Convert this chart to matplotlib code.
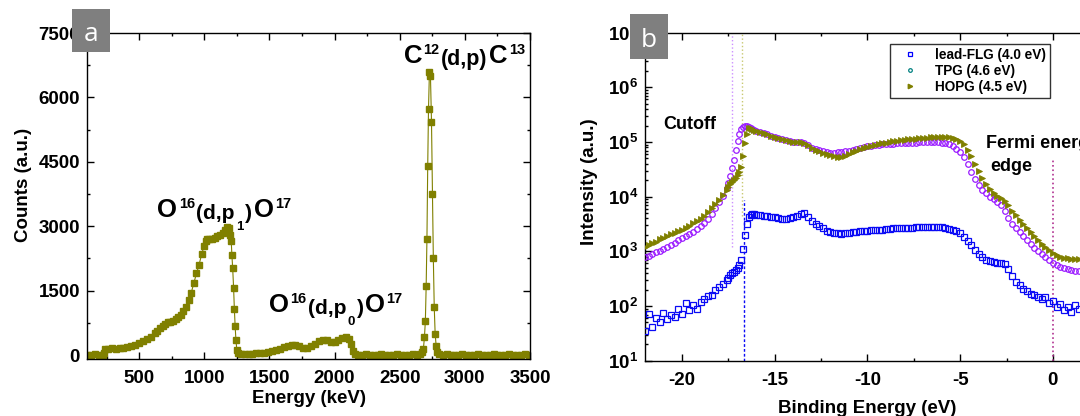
import numpy as np
import matplotlib
matplotlib.use('Agg')
import matplotlib.pyplot as plt
from matplotlib.lines import Line2D
from matplotlib.patches import Rectangle
from matplotlib.ticker import MultipleLocator, FixedLocator, LogLocator, LogFormatterMathtext, NullFormatter

plt.rcParams['font.family'] = ['Liberation Sans', 'DejaVu Sans']
plt.rcParams['font.weight'] = 'bold'
plt.rcParams['axes.labelweight'] = 'bold'
plt.rcParams['axes.unicode_minus'] = False
plt.rcParams['mathtext.fontset'] = 'custom'
plt.rcParams['mathtext.rm'] = 'Liberation Sans:bold'
plt.rcParams['mathtext.bf'] = 'Liberation Sans:bold'
plt.rcParams['mathtext.default'] = 'regular'

W, H = 1080, 416

# ---- panel a : deuteron NRA spectrum
energy_kev = [100, 130, 160, 190, 220, 228, 236, 260, 290, 320, 350, 380, 410, 440, 470,
              500, 530, 560, 590, 620, 640, 660, 680, 700, 720, 740, 760, 780, 800, 820,
              840, 860, 880, 900, 920, 940, 960, 980, 1000, 1010, 1020, 1040, 1060, 1080,
              1100, 1120, 1140, 1160, 1175, 1190, 1200, 1207, 1212, 1218, 1225, 1231, 1237,
              1243, 1250, 1258, 1280, 1310, 1340, 1370, 1400, 1430, 1460, 1490, 1520, 1550,
              1580, 1610, 1640, 1670, 1700, 1730, 1760, 1790, 1820, 1850, 1880, 1910, 1940,
              1970, 2000, 2030, 2060, 2090, 2110, 2125, 2140, 2155, 2180, 2210, 2240, 2270,
              2300, 2330, 2360, 2390, 2420, 2450, 2480, 2510, 2540, 2570, 2600, 2630, 2655,
              2670, 2682, 2690, 2697, 2703, 2709, 2715, 2721, 2728, 2736, 2744, 2751, 2758,
              2765, 2772, 2780, 2788, 2800, 2830, 2860, 2890, 2920, 2950, 2980, 3010, 3040,
              3070, 3100, 3130, 3160, 3190, 3220, 3250, 3280, 3310, 3340, 3370, 3400, 3430,
              3460, 3490, 3500]
counts = [10, 5, 15, 5, 10, 40, 150, 150, 155, 150, 160, 165, 180, 200, 230,
          270, 320, 370, 430, 510, 570, 620, 680, 730, 760, 770, 790, 830, 880, 940,
          1020, 1120, 1280, 1450, 1680, 1900, 2100, 2350, 2550, 2650, 2700, 2700, 2710, 2720,
          2780, 2800, 2850, 2900, 2980, 2950, 2800, 2650, 2330, 2030, 1570, 1070, 670,
          350, 120, 50, 30, 30, 35, 35, 40, 45, 55, 70, 90, 120,
          150, 180, 210, 240, 240, 200, 170, 160, 200, 260, 320, 350, 340,
          300, 300, 340, 400, 420, 380, 250, 100, 30, 10, 5, 15, 5,
          10, 5, 15, 5, 10, 5, 15, 5, 10, 5, 15, 10, 30,
          60, 150, 420, 800, 1600, 2700, 4400, 5730, 6580, 6500, 5430, 3760, 2270,
          1120, 500, 200, 60, 15, 5, 15, 5, 10, 5, 15, 5, 10,
          5, 15, 5, 10, 5, 15, 5, 10, 5, 15, 5, 10, 5,
          15, 5, 10]

# ---- panel b : UPS spectra (log10 of intensity)
binding_ev = [-22.0, -21.8, -21.6, -21.4, -21.2, -21.0, -20.8, -20.6, -20.4, -20.2,
              -20.0, -19.8, -19.6, -19.4, -19.2, -19.0, -18.8, -18.6, -18.4, -18.2,
              -18.0, -17.8, -17.6,
              -17.5, -17.4, -17.3, -17.2, -17.1, -17.0, -16.9, -16.8, -16.7, -16.6,
              -16.5, -16.4, -16.3, -16.2, -16.1, -16.0,
              -15.8, -15.6, -15.4, -15.2, -15.0, -14.8, -14.6, -14.4, -14.2, -14.0,
              -13.8, -13.6, -13.4, -13.2, -13.0, -12.8, -12.6, -12.4, -12.2, -12.0,
              -11.8, -11.6, -11.4, -11.2, -11.0, -10.8, -10.6, -10.4, -10.2, -10.0,
              -9.8, -9.6, -9.4, -9.2, -9.0, -8.8, -8.6, -8.4, -8.2, -8.0,
              -7.8, -7.6, -7.4, -7.2, -7.0, -6.8, -6.6, -6.4, -6.2, -6.0,
              -5.8, -5.6, -5.4, -5.2, -5.0, -4.8, -4.6, -4.4, -4.2, -4.0,
              -3.8, -3.6, -3.4, -3.2, -3.0, -2.8, -2.6, -2.4, -2.2, -2.0,
              -1.8, -1.6, -1.4, -1.2, -1.0, -0.8, -0.6, -0.4, -0.2, 0.0,
              0.2, 0.4, 0.6, 0.8, 1.0, 1.2, 1.4]
lg_hopg = [3.08, 3.11, 3.15, 3.18, 3.22, 3.25, 3.28, 3.31, 3.34, 3.37,
           3.40, 3.43, 3.47, 3.51, 3.55, 3.59, 3.65, 3.72, 3.79, 3.87,
           3.94, 4.03, 4.13,
           4.18, 4.23, 4.27, 4.31, 4.35, 4.40, 4.46, 4.55, 4.75, 4.98,
           5.15, 5.25, 5.26, 5.24, 5.22, 5.20,
           5.18, 5.16, 5.14, 5.11, 5.09, 5.07, 5.05, 5.03, 5.01, 5.00,
           5.00, 5.00, 4.98, 4.94, 4.90, 4.86, 4.83, 4.80, 4.78, 4.76,
           4.74, 4.73, 4.73, 4.75, 4.78, 4.81, 4.84, 4.87, 4.89, 4.91,
           4.93, 4.95, 4.96, 4.98, 4.99, 5.00, 5.01, 5.02, 5.03, 5.04,
           5.05, 5.06, 5.06, 5.07, 5.08, 5.08, 5.09, 5.09, 5.10, 5.10,
           5.10, 5.09, 5.08, 5.05, 5.02, 4.96, 4.86, 4.74, 4.60, 4.47,
           4.34, 4.23, 4.14, 4.07, 4.02, 3.98, 3.92, 3.84, 3.74, 3.66,
           3.58, 3.50, 3.42, 3.35, 3.28, 3.21, 3.14, 3.08, 3.02, 2.97,
           2.93, 2.90, 2.88, 2.87, 2.86, 2.86, 2.86]
lg_tpg = [2.90, 2.92, 2.95, 2.98, 3.01, 3.05, 3.08, 3.12, 3.16, 3.20,
          3.24, 3.28, 3.32, 3.36, 3.41, 3.46, 3.52, 3.60, 3.69, 3.79,
          3.90, 4.02, 4.16,
          4.25, 4.37, 4.52, 4.68, 4.86, 5.02, 5.15, 5.23, 5.28, 5.30,
          5.30, 5.28, 5.26, 5.24, 5.22, 5.20,
          5.18, 5.16, 5.14, 5.11, 5.09, 5.07, 5.05, 5.03, 5.01, 5.00,
          5.00, 5.00, 4.98, 4.94, 4.90, 4.87, 4.85, 4.83, 4.81, 4.80,
          4.80, 4.81, 4.82, 4.83, 4.84, 4.86, 4.88, 4.89, 4.91, 4.92,
          4.93, 4.94, 4.95, 4.96, 4.96, 4.97, 4.97, 4.98, 4.98, 4.98,
          4.99, 4.99, 4.99, 5.00, 5.00, 5.00, 5.00, 5.00, 5.00, 4.99,
          4.98, 4.96, 4.93, 4.88, 4.82, 4.72, 4.60, 4.46, 4.33, 4.22,
          4.13, 4.06, 4.00, 3.96, 3.91, 3.84, 3.74, 3.61, 3.50, 3.42,
          3.35, 3.28, 3.20, 3.13, 3.07, 3.01, 2.95, 2.90, 2.84, 2.79,
          2.75, 2.72, 2.69, 2.67, 2.66, 2.65, 2.65]
lg_flg = [1.55, 1.85, 1.62, 1.78, 1.70, 1.88, 1.76, 1.84, 1.80, 1.95,
          1.86, 2.05, 1.92, 2.02, 1.95, 2.08, 2.12, 2.18, 2.20, 2.30,
          2.35, 2.40, 2.47,
          2.52, 2.56, 2.60, 2.63, 2.66, 2.70, 2.75, 2.85, 3.05, 3.30,
          3.50, 3.62, 3.67, 3.68, 3.68, 3.67,
          3.66, 3.65, 3.64, 3.63, 3.62, 3.61, 3.60, 3.60, 3.61, 3.62,
          3.65, 3.69, 3.70, 3.62, 3.55, 3.50, 3.46, 3.42, 3.38, 3.35,
          3.34, 3.33, 3.32, 3.33, 3.34, 3.35, 3.36, 3.37, 3.38, 3.38,
          3.39, 3.39, 3.40, 3.40, 3.41, 3.41, 3.42, 3.42, 3.42, 3.43,
          3.43, 3.43, 3.44, 3.44, 3.44, 3.45, 3.45, 3.45, 3.45, 3.44,
          3.43, 3.41, 3.39, 3.37, 3.33, 3.27, 3.19, 3.11, 3.03, 2.96,
          2.90, 2.85, 2.82, 2.80, 2.79, 2.78, 2.76, 2.68, 2.55, 2.44,
          2.38, 2.32, 2.28, 2.22, 2.20, 2.17, 2.12, 2.16, 2.05, 2.10,
          1.98, 2.03, 1.92, 1.98, 1.90, 2.02, 1.95]

series_labels = ['lead-FLG (4.0 eV)', 'TPG (4.6 eV)', 'HOPG (4.5 eV)']

# guide lines: x position, y from, y to
cut_tpg = (-17.3, 1.2e3, 1e7)
cut_hopg = (-16.78, 4.4e3, 1e7)
cut_flg = (-16.64, 10, 8.7e3)
fermi = (0.0, 10, 4.7e4)

OLIVE = '#808000'
PURPLE = '#9a1aff'
BLUE = '#0a0af5'


def rich_text(fig, x_px, base, pieces, gap=1.5):
	# pieces: (text, size, baseline shift px), laid out one after another
	r = fig.canvas.get_renderer()
	x = x_px
	for s, size, dy in pieces:
		t = fig.text(x / W, 1 - (base - dy) / H, s, fontsize=size,
		             fontweight='bold', ha='left', va='baseline')
		x += t.get_window_extent(r).width + gap


def label_box(fig, x0, y0, x1, y1, letter, base):
	fig.patches.append(Rectangle((x0 / W, 1 - y1 / H), (x1 - x0) / W, (y1 - y0) / H,
	                             transform=fig.transFigure, facecolor='#7f7f7f',
	                             edgecolor='none', zorder=5))
	fig.text((x0 + x1) / 2 / W, 1 - base / H, letter, color='white', fontsize=19,
	         fontweight='normal', family='Open Sans', ha='center', va='baseline', zorder=6)


fig = plt.figure(figsize=(W / 100, H / 100), dpi=100)

# ---------- panel a
ax1 = fig.add_axes([87 / W, 1 - 359.3 / H, 443 / W, 326.3 / H])
ax1.plot(energy_kev, counts, '-s', color=OLIVE, lw=0.8, ms=4.6, mec=OLIVE, mfc=OLIVE)
ax1.set_xlim(100, 3500)
ax1.set_ylim(-100, 7500)
ax1.xaxis.set_major_locator(FixedLocator([500, 1000, 1500, 2000, 2500, 3000, 3500]))
ax1.xaxis.set_minor_locator(MultipleLocator(250))
ax1.yaxis.set_major_locator(MultipleLocator(1500))
ax1.yaxis.set_minor_locator(MultipleLocator(750))
ax1.set_xlabel('Energy (keV)', fontsize=13.5, labelpad=2)
ax1.set_ylabel('Counts (a.u.)', fontsize=13.5)
ax1.yaxis.set_label_coords(-0.125, 0.534)

# ---------- panel b
ax2 = fig.add_axes([644.9 / W, 1 - 360.7 / H, 445.1 / W, 328 / H])
fl = 10 ** np.array(lg_flg)
tp = 10 ** np.array(lg_tpg)
ho = 10 ** np.array(lg_hopg)
ax2.plot(binding_ev, fl, 's', ms=4.0, mfc='none', mec=BLUE, mew=0.9, zorder=3)
ax2.plot(binding_ev, tp, 'o', ms=4.0, mfc='none', mec=PURPLE, mew=0.9, zorder=3)
ax2.plot(binding_ev, ho, '>', ms=5.0, mfc=OLIVE, mec=OLIVE, mew=0.6, zorder=4)
ax2.plot([cut_tpg[0]] * 2, cut_tpg[1:], ':', color='#cc90ff', lw=1.0, zorder=2)
ax2.plot([cut_hopg[0]] * 2, cut_hopg[1:], ':', color='#c8c870', lw=1.0, zorder=2)
ax2.plot([cut_flg[0]] * 2, cut_flg[1:], '--', color=BLUE, lw=1.0, dashes=(2, 1.5), zorder=2)
ax2.plot([fermi[0]] * 2, fermi[1:], ':', color='#b03090', lw=1.2, zorder=2)
ax2.set_yscale('log')
ax2.set_xlim(-22, 2)
ax2.set_ylim(10, 1e7)
ax2.xaxis.set_major_locator(MultipleLocator(5))
ax2.xaxis.set_minor_locator(MultipleLocator(2.5))
ax2.yaxis.set_major_locator(LogLocator(base=10, numticks=10))
ax2.yaxis.set_major_formatter(LogFormatterMathtext())
ax2.yaxis.set_minor_locator(LogLocator(base=10, subs=np.arange(2, 10), numticks=20))
ax2.yaxis.set_minor_formatter(NullFormatter())
ax2.set_xlabel('Binding Energy (eV)', fontsize=13.5, labelpad=8)
ax2.set_ylabel('Intensity (a.u.)', fontsize=13.5)
ax2.yaxis.set_label_coords(-0.105, 0.546)

handles = [Line2D([], [], ls='none', marker='s', ms=3, mfc='none', mec='#0000ff', mew=0.9),
           Line2D([], [], ls='none', marker='o', ms=2.6, mfc='none', mec='#008080', mew=0.9),
           Line2D([], [], ls='none', marker='>', ms=3.2, mfc=OLIVE, mec=OLIVE)]
leg = ax2.legend(handles, series_labels, loc='upper left',
                 bbox_to_anchor=(890 / W, 1 - 44 / H), bbox_transform=fig.transFigure,
                 fontsize=9.8, frameon=True, fancybox=False, borderpad=0.3,
                 handlelength=2.4, handletextpad=0.6, labelspacing=0.15, borderaxespad=0)
leg.get_frame().set_edgecolor('black')
leg.get_frame().set_linewidth(1.0)

for ax in (ax1, ax2):
	ax.tick_params(which='both', direction='in', top=True, right=True, width=1.0,
	               labelsize=13.5)
	ax.tick_params(which='major', length=5)
	ax.tick_params(which='minor', length=2.5)
	ax.tick_params(axis='x', pad=8)
	ax.tick_params(axis='y', pad=5)
	for sp in ax.spines.values():
		sp.set_linewidth(1.0)

ax2.text(-21.0, 10 ** 5.24, 'Cutoff', fontsize=13, ha='left', va='baseline',
         transform=ax2.transData)

fig.text(986 / W, 1 - 148.3 / H, 'Fermi energy', fontsize=13, ha='left', va='baseline')
fig.text(990 / W, 1 - 170.7 / H, 'edge', fontsize=13, ha='left', va='baseline')

o_pieces1 = [('O', 18.5, 0), ('16', 10.5, 9), ('(d,p', 15, -2), ('1', 9.5, -13),
             (')', 15, -2), ('O', 18.5, 0), ('17', 10.5, 9)]
o_pieces0 = [('O', 18.5, 0), ('16', 10.5, 9), ('(d,p', 15, -2), ('0', 9.5, -13),
             (')', 15, -2), ('O', 18.5, 0), ('17', 10.5, 9)]
c_pieces = [('C', 18.5, 0), ('12', 10.5, 9), ('(d,p)', 15.5, -2),
            ('C', 18.5, 0), ('13', 10.5, 9)]
rich_text(fig, 157.3, 216.7, o_pieces1)
rich_text(fig, 268.6, 311.7, o_pieces0)
rich_text(fig, 403.6, 62.7, c_pieces)

label_box(fig, 72, 9, 110, 52, 'a', 41)
label_box(fig, 630, 14, 668, 59, 'b', 47)

fig.savefig('out.png', dpi=100)
